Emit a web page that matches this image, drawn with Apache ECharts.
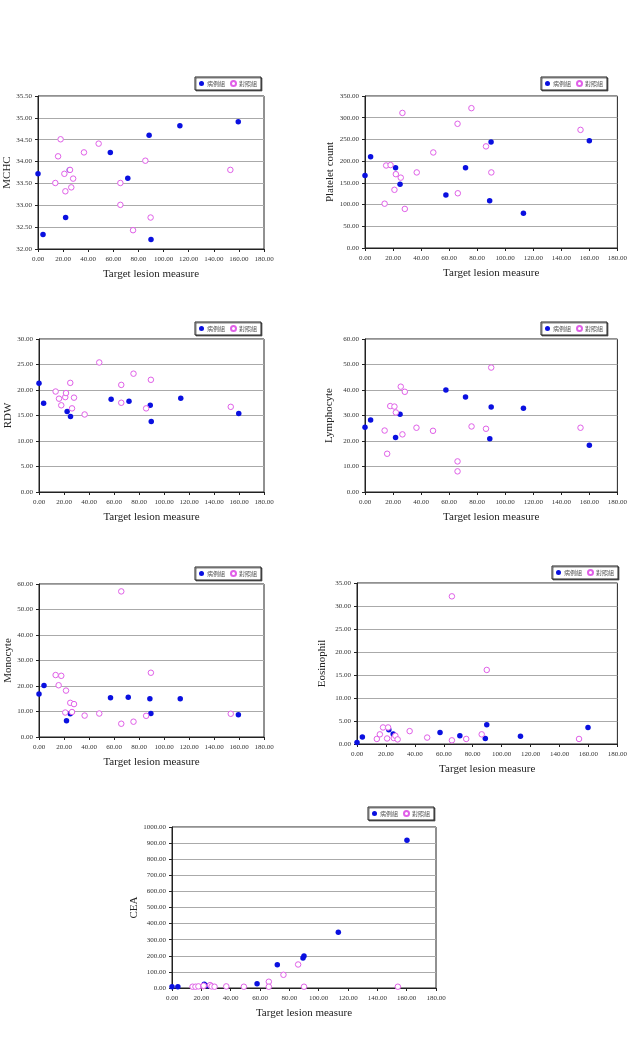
<!DOCTYPE html>
<html>
<head>
<meta charset="utf-8">
<script src="https://cdn.jsdelivr.net/npm/echarts@6/dist/echarts.min.js"></script>
<style>
  html, body { margin: 0; padding: 0; background: #fff; }
  #main { width: 630px; height: 1040px; }
</style>
</head>
<body>
<div id="main"></div>
<script>
// 圖例名稱
const legendNames = ["病例組", "對照組"];
const xTicks = [0, 180, 20];

// MCHC
const mchcCase = [[0,33.72],[4,32.33],[22,32.72],[25,33.81],[57.6,34.21],[71.5,33.62],[88.5,34.6],[90,32.22],[113,34.82],[159.5,34.91]];
const mchcCtrl = [[18,34.51],[16,34.12],[13.8,33.51],[21,33.72],[21.8,33.32],[25.5,33.81],[26.5,33.41],[28,33.61],[36.6,34.21],[48.3,34.41],[65.6,33.51],[65.6,33.01],[75.7,32.43],[85.5,34.02],[89.7,32.72],[153.2,33.81]];
// Platelet count
const pltCase = [[0,167],[4,210],[21.8,185],[25,147],[57.7,122],[71.7,185],[88.9,109],[89.9,244],[113,80],[160,247]];
const pltCtrl = [[15.1,190],[18.2,191],[14,102],[21,134],[22,170],[25.5,162],[26.7,311],[28.4,90],[36.9,174],[48.7,220],[66,286],[66.2,126],[75.9,322],[86.3,234],[90.1,174],[153.7,272]];
// RDW
const rdwCase = [[0,21.3],[3.7,17.4],[22.5,15.8],[25.2,14.8],[57.7,18.2],[72,17.8],[89,17.0],[89.8,13.8],[113.4,18.4],[159.8,15.4]];
const rdwCtrl = [[13.3,19.7],[16,18.3],[17.8,17.0],[21,18.6],[21.6,19.4],[25,21.4],[26.4,16.4],[28,18.5],[36.5,15.2],[48.2,25.4],[65.8,21.0],[65.8,17.5],[75.6,23.2],[85.7,16.4],[89.5,22.0],[153.4,16.7]];
// Lymphocyte
const lymCase = [[0,25.4],[4,28.2],[21.8,21.4],[25,30.5],[57.7,40.0],[71.7,37.3],[89,20.9],[90,33.3],[113,32.8],[160,18.3]];
const lymCtrl = [[14,24.1],[15.8,15.0],[18,33.7],[21,33.5],[22,31.2],[25.5,41.3],[26.7,22.6],[28.4,39.3],[36.7,25.2],[48.5,24.0],[66,12.0],[66,8.1],[76,25.7],[86.3,24.8],[90,48.8],[153.7,25.2]];
// Monocyte
const monoCase = [[0,16.9],[4,20.2],[22,6.4],[25,9.1],[57.2,15.4],[71.4,15.6],[88.7,15.0],[89.5,9.2],[113,15.0],[159.5,8.7]];
const monoCtrl = [[13.3,24.3],[17.8,24.0],[15.7,20.3],[21.6,18.2],[21,9.6],[25,13.4],[26.4,9.8],[28,12.9],[36.5,8.4],[48.2,9.2],[65.8,57.1],[65.8,5.2],[75.6,6.0],[85.7,8.3],[89.5,25.2],[153.4,9.1]];
// Eosinophil
const eosCase = [[0,0.3],[3.7,1.5],[22,3.1],[25,2.2],[57.4,2.5],[71.1,1.8],[88.7,1.2],[89.7,4.2],[113,1.7],[159.7,3.6]];
const eosCtrl = [[13.7,1.1],[15.8,2.1],[18,3.6],[21.5,3.6],[20.8,1.2],[25.4,1.3],[26.5,1.8],[28.1,1.0],[36.4,2.8],[48.5,1.4],[65.6,32.1],[65.6,0.8],[75.5,1.1],[86.2,2.1],[89.7,16.1],[153.5,1.1]];
// CEA
const ceaCase = [[0,8],[4,8],[22,23],[24.3,14],[58,27],[71.8,144],[89.3,186],[90,198],[113.4,346],[160.2,918]];
const ceaCtrl = [[14,8],[16,8],[18,10],[21.4,12],[21.6,14],[26,18],[27,10],[29,8],[37,10],[49,8],[66,39],[66,8],[76,82],[86,146],[90,8],[154,8]];

// 每個小圖: 名稱, y軸範圍, 兩組資料, 版面
const panels = [
  { name: "MCHC", ymin: 32, ymax: 35.5, step: 0.5, a: mchcCase, b: mchcCtrl,
    box: [38, 96, 226, 153], leg: [195, 77], gap: 20 },
  { name: "Platelet count", ymin: 0, ymax: 350, step: 50, a: pltCase, b: pltCtrl,
    box: [365, 96, 253, 152], leg: [541, 77], gap: 28 },
  { name: "RDW", ymin: 0, ymax: 30, step: 5, a: rdwCase, b: rdwCtrl,
    box: [39, 339, 225, 153], leg: [195, 322], gap: 25 },
  { name: "Lymphocyte", ymin: 0, ymax: 60, step: 10, a: lymCase, b: lymCtrl,
    box: [365, 339, 253, 153], leg: [541, 322], gap: 30 },
  { name: "Monocyte", ymin: 0, ymax: 60, step: 10, a: monoCase, b: monoCtrl,
    box: [39, 584, 225, 153], leg: [195, 567], gap: 25 },
  { name: "Eosinophil", ymin: 0, ymax: 35, step: 5, a: eosCase, b: eosCtrl,
    box: [357, 583, 262, 161], leg: [552, 566], gap: 29 },
  { name: "CEA", ymin: 0, ymax: 1000, step: 100, a: ceaCase, b: ceaCtrl,
    box: [172, 827, 264, 161], leg: [368, 807], gap: 31 },
];

const font = "'Liberation Serif', 'Times New Roman', serif";
const chart = echarts.init(document.getElementById("main"));

let grid = [], xAxis = [], yAxis = [], series = [], legend = [];
panels.forEach(function (p, i) {
  grid.push({
    left: p.box[0], top: p.box[1], width: p.box[2], height: p.box[3],
    show: true, borderColor: "#222", borderWidth: 1, backgroundColor: "#fff",
  });
  xAxis.push({
    gridIndex: i, type: "value", min: xTicks[0], max: xTicks[1], interval: xTicks[2],
    name: "Target lesion measure", nameLocation: "middle", nameGap: 20,
    nameTextStyle: { fontFamily: font, fontSize: 11, color: "#222" },
    axisLine: { lineStyle: { color: "#222" } },
    axisTick: { show: true, inside: false, length: 3, lineStyle: { color: "#222" } },
    splitLine: { show: false },
    axisLabel: { fontFamily: font, fontSize: 7, color: "#333", margin: 7,
      formatter: function (v) { return v.toFixed(2); } },
  });
  yAxis.push({
    gridIndex: i, type: "value", min: p.ymin, max: p.ymax, interval: p.step,
    name: p.name, nameLocation: "middle", nameRotate: 90, nameGap: p.gap,
    nameTextStyle: { fontFamily: font, fontSize: 11, color: "#222" },
    axisLine: { show: true, lineStyle: { color: "#222" } },
    axisTick: { show: true, inside: false, length: 3, lineStyle: { color: "#222" } },
    splitLine: { show: true, lineStyle: { color: "#aaa", width: 1 } },
    axisLabel: { fontFamily: font, fontSize: 7, color: "#333", margin: 6,
      formatter: function (v) { return v.toFixed(2); } },
  });
  series.push({
    name: legendNames[0], type: "scatter", xAxisIndex: i, yAxisIndex: i,
    symbol: "circle", symbolSize: 5.5,
    itemStyle: { color: "#0a10e0", opacity: 1 },
    data: p.a,
  });
  series.push({
    name: legendNames[1], type: "scatter", xAxisIndex: i, yAxisIndex: i,
    symbol: "circle", symbolSize: 5.5,
    itemStyle: { color: "#fff", borderColor: "#e060e8", borderWidth: 1, opacity: 1 },
    data: p.b,
  });
  legend.push({
    left: p.leg[0], top: p.leg[1], orient: "horizontal",
    data: legendNames, icon: "circle", itemWidth: 5, itemHeight: 5, itemGap: 5,
    padding: [3, 4, 3, 4], borderColor: "#222", borderWidth: 1,
    shadowColor: "rgba(0,0,0,0.5)", shadowOffsetX: 1, shadowOffsetY: 1, backgroundColor: "#fff",
    textStyle: { fontFamily: "'Noto Sans CJK TC', sans-serif", fontSize: 6, color: "#555", padding: [0, 0, 0, -2] },
    selectedMode: false,
  });
});

chart.setOption({
  animation: false,
  grid: grid,
  xAxis: xAxis,
  yAxis: yAxis,
  legend: legend,
  series: series,
});
</script>
</body>
</html>
